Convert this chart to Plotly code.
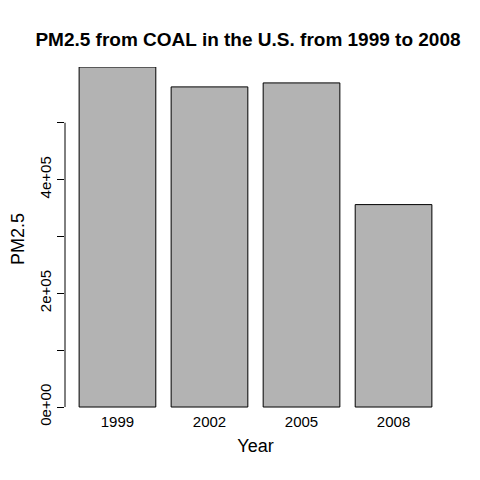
import plotly.graph_objects as go

years = ["1999", "2002", "2005", "2008"]
pm25 = [598000, 563000, 570000, 356000]
ytick_vals = [0, 100000, 200000, 300000, 400000, 500000]
ytick_text = ["0e+00", "", "2e+05", "", "4e+05", ""]

fig = go.Figure()
fig.add_trace(go.Bar(x=years, y=pm25, marker=dict(color="#b3b3b3", line=dict(color="black", width=1))))

fig.add_shape(type="line", xref="paper", yref="y", x0=0, x1=0, y0=0, y1=500000,
              line=dict(color="black", width=1))

fig.update_layout(
    width=480, height=480,
    margin=dict(l=57, r=42, t=59, b=77, autoexpand=False),
    plot_bgcolor="white", paper_bgcolor="white",
    font=dict(family="Liberation Sans, Arial", size=15, color="black"),
    title=dict(text="<b>PM2.5 from COAL in the U.S. from 1999 to 2008</b>",
               x=0.5, xanchor="center", y=0.935, yanchor="middle", font=dict(size=19)),
    bargap=0.1667,
    showlegend=False,
    xaxis=dict(range=[-0.57, 3.57], showline=False, ticks="", showgrid=False,
               title=dict(text="Year", standoff=10), tickfont=dict(size=15)),
    yaxis=dict(range=[-7000, 598000], showline=False, showgrid=False, zeroline=False,
               ticks="outside", ticklen=7, tickcolor="black",
               tickvals=ytick_vals, ticktext=ytick_text, tickangle=-90,
               title=dict(text="PM2.5", standoff=12), tickfont=dict(size=15)),
)
fig.write_html("out.html")
